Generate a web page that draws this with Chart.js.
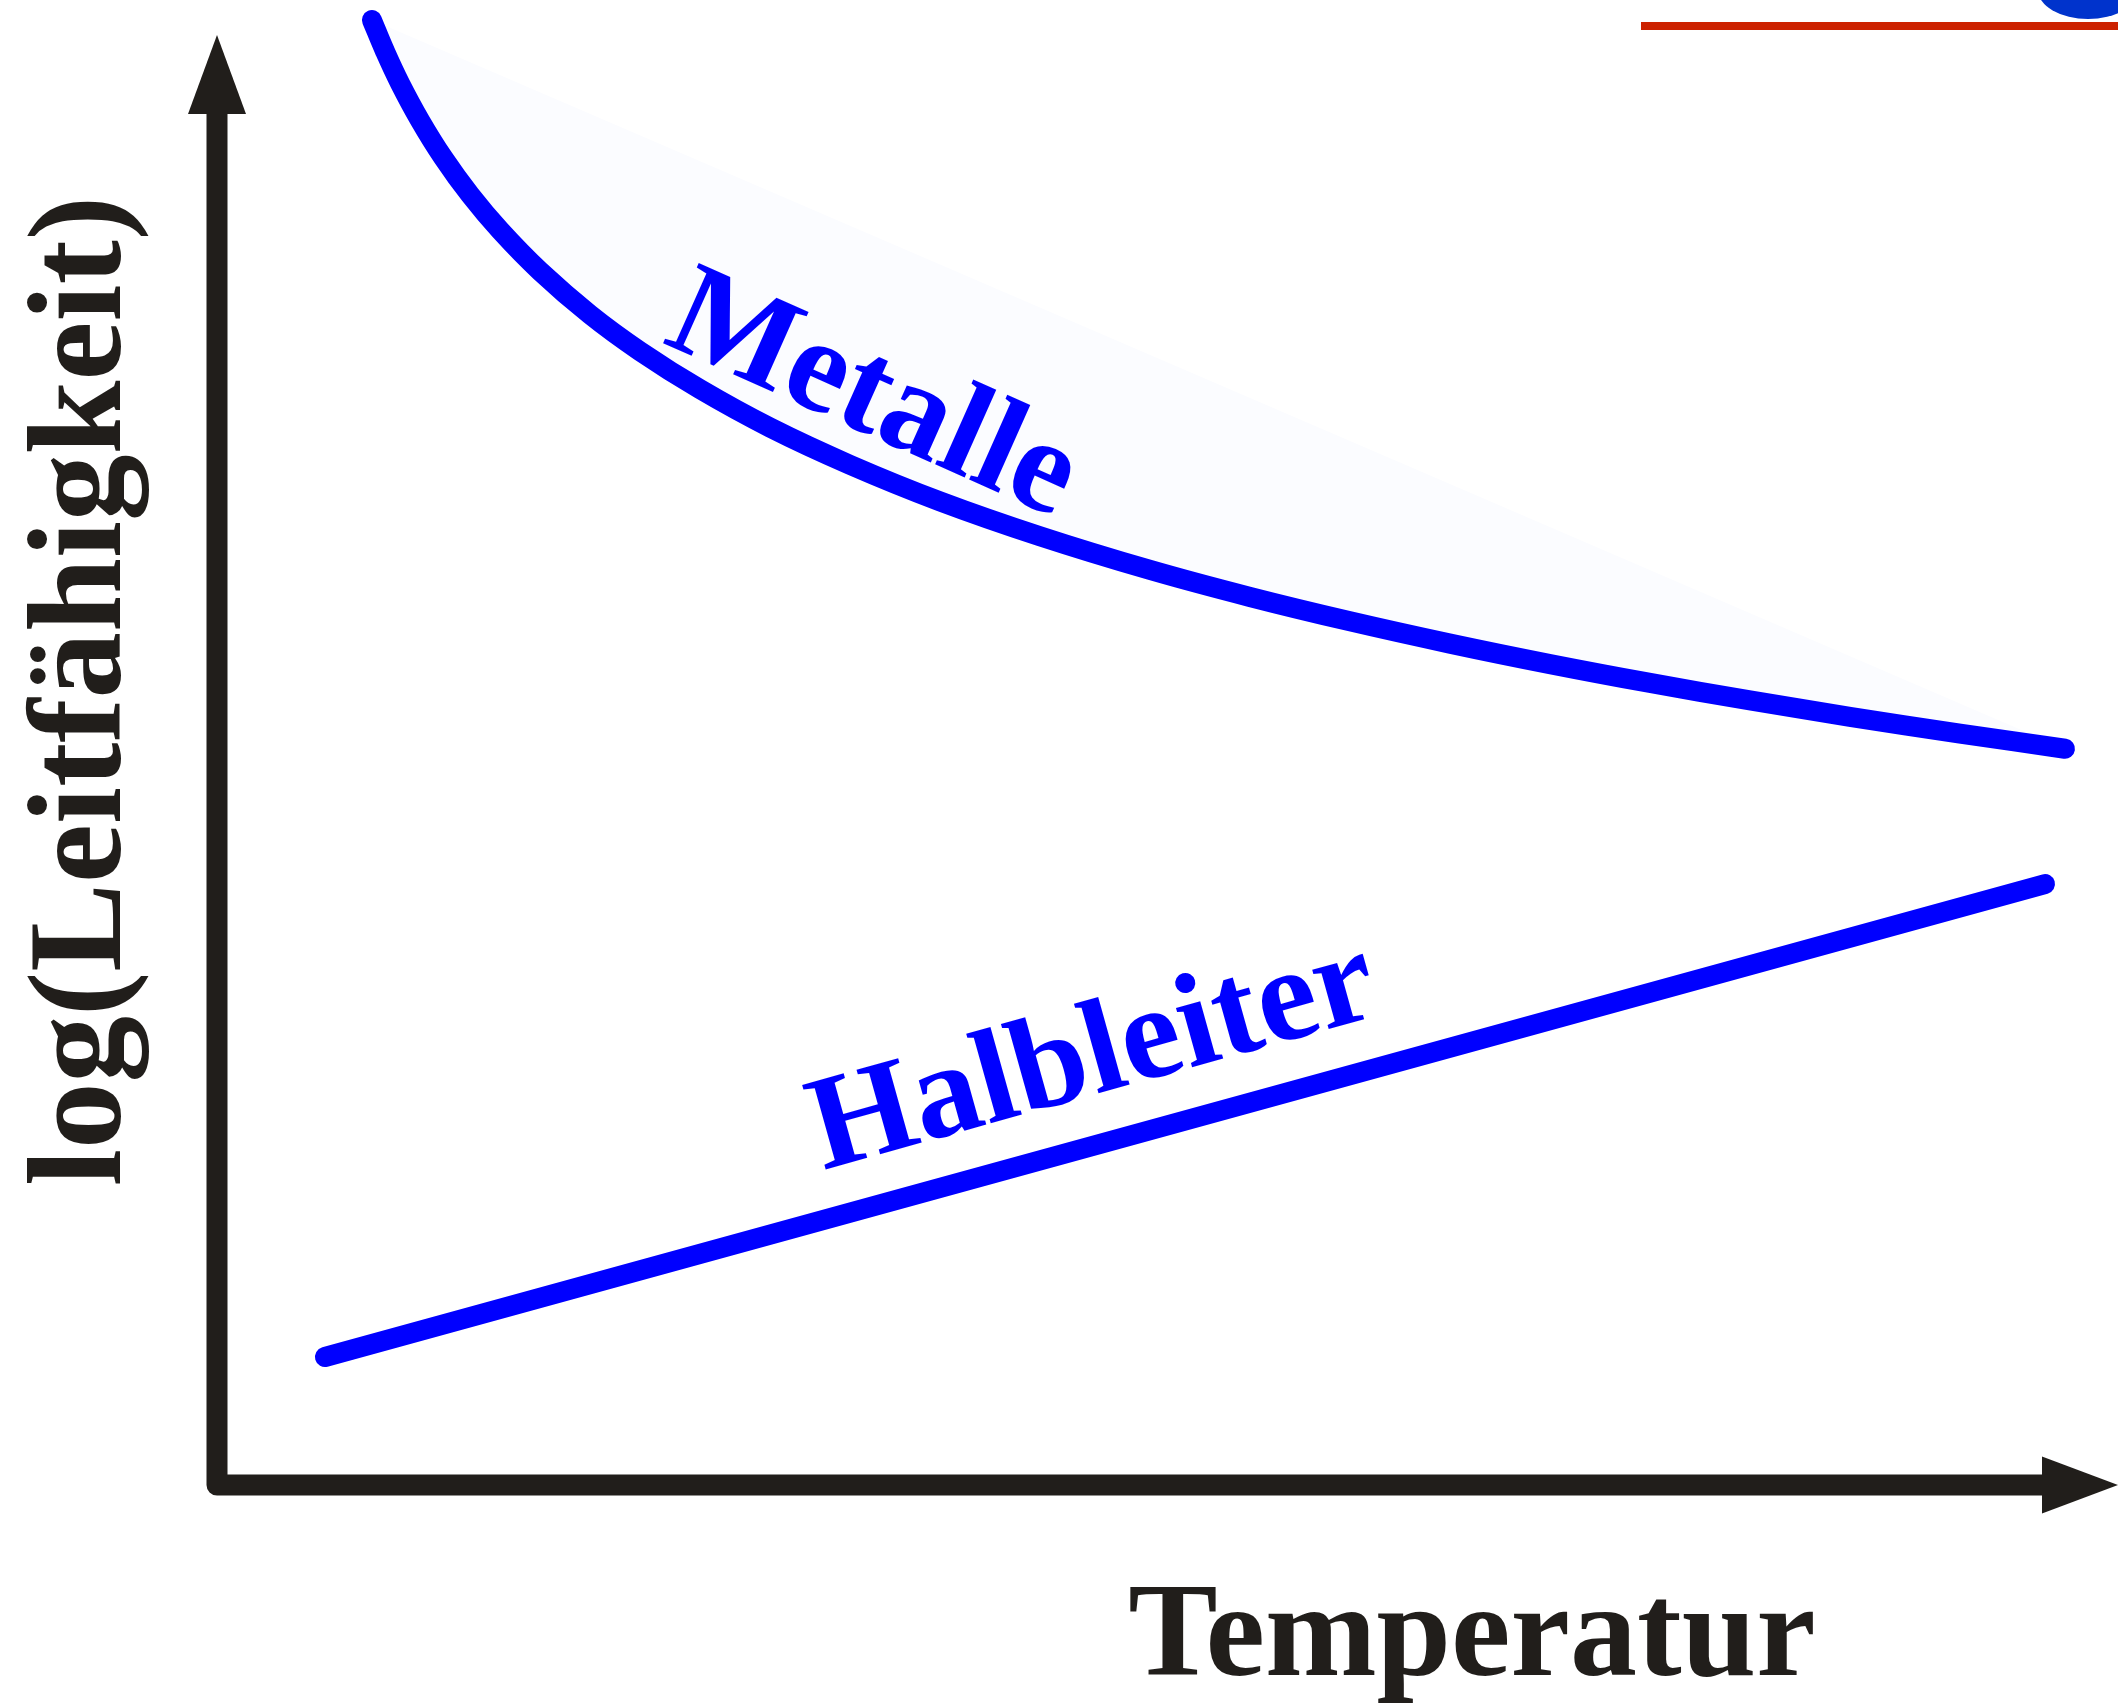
<!DOCTYPE html>
<html>
<head>
<meta charset="utf-8">
<script src="https://cdn.jsdelivr.net/npm/chart.js@4.4.1/dist/chart.umd.min.js"></script>
<style>
  html, body { margin: 0; padding: 0; background: #ffffff; }
  #wrap { width: 2118px; height: 1703px; position: relative; }
</style>
</head>
<body>
<div id="wrap"><canvas id="c" width="2118" height="1703"></canvas></div>
<script>
// ---- data (arbitrary units) ----
const metalleTemp = [8.15, 8.84, 9.63, 10.68, 11.89, 13.31, 14.89, 16.99, 19.62, 22.25, 25.41, 29.09, 33.30, 38.03, 43.29, 49.08, 54.34, 59.60, 64.86, 70.12, 75.38, 80.64, 85.90, 91.69, 97.21];
const metalleLog  = [98.65, 96.54, 94.38, 91.89, 89.40, 86.89, 84.49, 81.74, 78.82, 76.35, 73.79, 71.21, 68.70, 66.24, 63.89, 61.62, 59.80, 58.16, 56.66, 55.28, 54.01, 52.84, 51.73, 50.60, 49.58];
const halbleiterTemp = [5.68, 96.16];
const halbleiterLog  = [8.62, 40.47];
const seriesNames = ['Metalle', 'Halbleiter'];
const xAxisTitle = 'Temperatur';
const yAxisTitle = 'log(Leitfähigkeit)';

const toPts = (xs, ys) => xs.map((x, i) => ({ x: x, y: ys[i] }));
const metallePts = toPts(metalleTemp, metalleLog);
const halbleiterPts = toPts(halbleiterTemp, halbleiterLog);
const chordPts = [metallePts[0], metallePts[metallePts.length - 1]];

const BLUE = '#0000ff';
const AXIS = '#211e1b';
const FONT = '"Liberation Serif", "Times New Roman", serif';

const decor = {
  id: 'decor',
  afterDraw(chart) {
    const ctx = chart.ctx;
    const xs = chart.scales.x, ys = chart.scales.y;
    const ox = xs.getPixelForValue(0);
    const oy = ys.getPixelForValue(0);
    const right = chart.chartArea.right;
    const top = chart.chartArea.top;
    ctx.save();
    // axes
    ctx.strokeStyle = AXIS;
    ctx.fillStyle = AXIS;
    ctx.lineWidth = 21;
    ctx.lineJoin = 'round';
    ctx.lineCap = 'butt';
    const yTip = top + 35, yBase = top + 114;
    const xTip = right, xBase = right - 76;
    ctx.beginPath();
    ctx.moveTo(ox, yBase);
    ctx.lineTo(ox, oy);
    ctx.lineTo(xBase, oy);
    ctx.stroke();
    // arrow heads
    ctx.beginPath();
    ctx.moveTo(ox, yTip);
    ctx.lineTo(ox + 29, yBase);
    ctx.lineTo(ox - 29, yBase);
    ctx.closePath();
    ctx.fill();
    ctx.beginPath();
    ctx.moveTo(xTip, oy);
    ctx.lineTo(xBase, oy - 28.5);
    ctx.lineTo(xBase, oy + 28.5);
    ctx.closePath();
    ctx.fill();

    // axis titles
    ctx.fillStyle = AXIS;
    ctx.font = 'bold 134px ' + FONT;
    ctx.textAlign = 'center';
    ctx.textBaseline = 'alphabetic';
    ctx.fillText(xAxisTitle, 1472, 1675);
    ctx.save();
    ctx.translate(120, 691);
    ctx.rotate(-Math.PI / 2);
    ctx.font = 'bold 133px ' + FONT;
    ctx.fillText(yAxisTitle, 0, 0);
    ctx.restore();

    // series labels
    ctx.fillStyle = BLUE;
    ctx.save();
    ctx.translate(858, 430);
    ctx.rotate(24 * Math.PI / 180);
    ctx.font = 'bold 134px ' + FONT;
    ctx.fillText(seriesNames[0], 0, 0);
    ctx.restore();
    ctx.save();
    ctx.translate(1103, 1092);
    ctx.rotate(-15.6 * Math.PI / 180);
    ctx.font = 'bold 134px ' + FONT;
    ctx.fillText(seriesNames[1], 0, 0);
    ctx.restore();

    // cropped decoration at top right
    ctx.fillStyle = '#cc2200';
    ctx.fillRect(1641, 22, 477, 8);
    ctx.fillStyle = '#0033cc';
    ctx.beginPath();
    ctx.ellipse(2088, -10, 50, 29, 0, 0, Math.PI * 2);
    ctx.fill();
    ctx.fillStyle = '#ffffff';
    ctx.beginPath();
    ctx.ellipse(2092, -14, 22, 12, 0, 0, Math.PI * 2);
    ctx.fill();
    ctx.restore();
  }
};

new Chart(document.getElementById('c'), {
  type: 'line',
  data: {
    datasets: [
      {
        label: seriesNames[0],
        data: metallePts,
        borderColor: BLUE,
        borderWidth: 20,
        borderCapStyle: 'round',
        borderJoinStyle: 'round',
        tension: 0.4,
        pointRadius: 0,
        fill: false,
        clip: false
      },
      {
        label: seriesNames[1],
        data: halbleiterPts,
        borderColor: BLUE,
        borderWidth: 20,
        borderCapStyle: 'round',
        pointRadius: 0,
        fill: false,
        clip: false
      },
      {
        label: 'fill',
        data: chordPts,
        borderWidth: 0,
        borderColor: 'rgba(0,0,0,0)',
        backgroundColor: '#fbfcff',
        pointRadius: 0,
        fill: 0,
        clip: false
      }
    ]
  },
  options: {
    responsive: false,
    animation: false,
    events: [],
    layout: { padding: { left: 217, right: 0, top: 0, bottom: 218 } },
    plugins: { legend: { display: false }, tooltip: { enabled: false }, title: { display: false } },
    scales: {
      x: { type: 'linear', min: 0, max: 100, display: false },
      y: { type: 'linear', min: 0, max: 100, display: false }
    }
  },
  plugins: [decor]
});
</script>
</body>
</html>
